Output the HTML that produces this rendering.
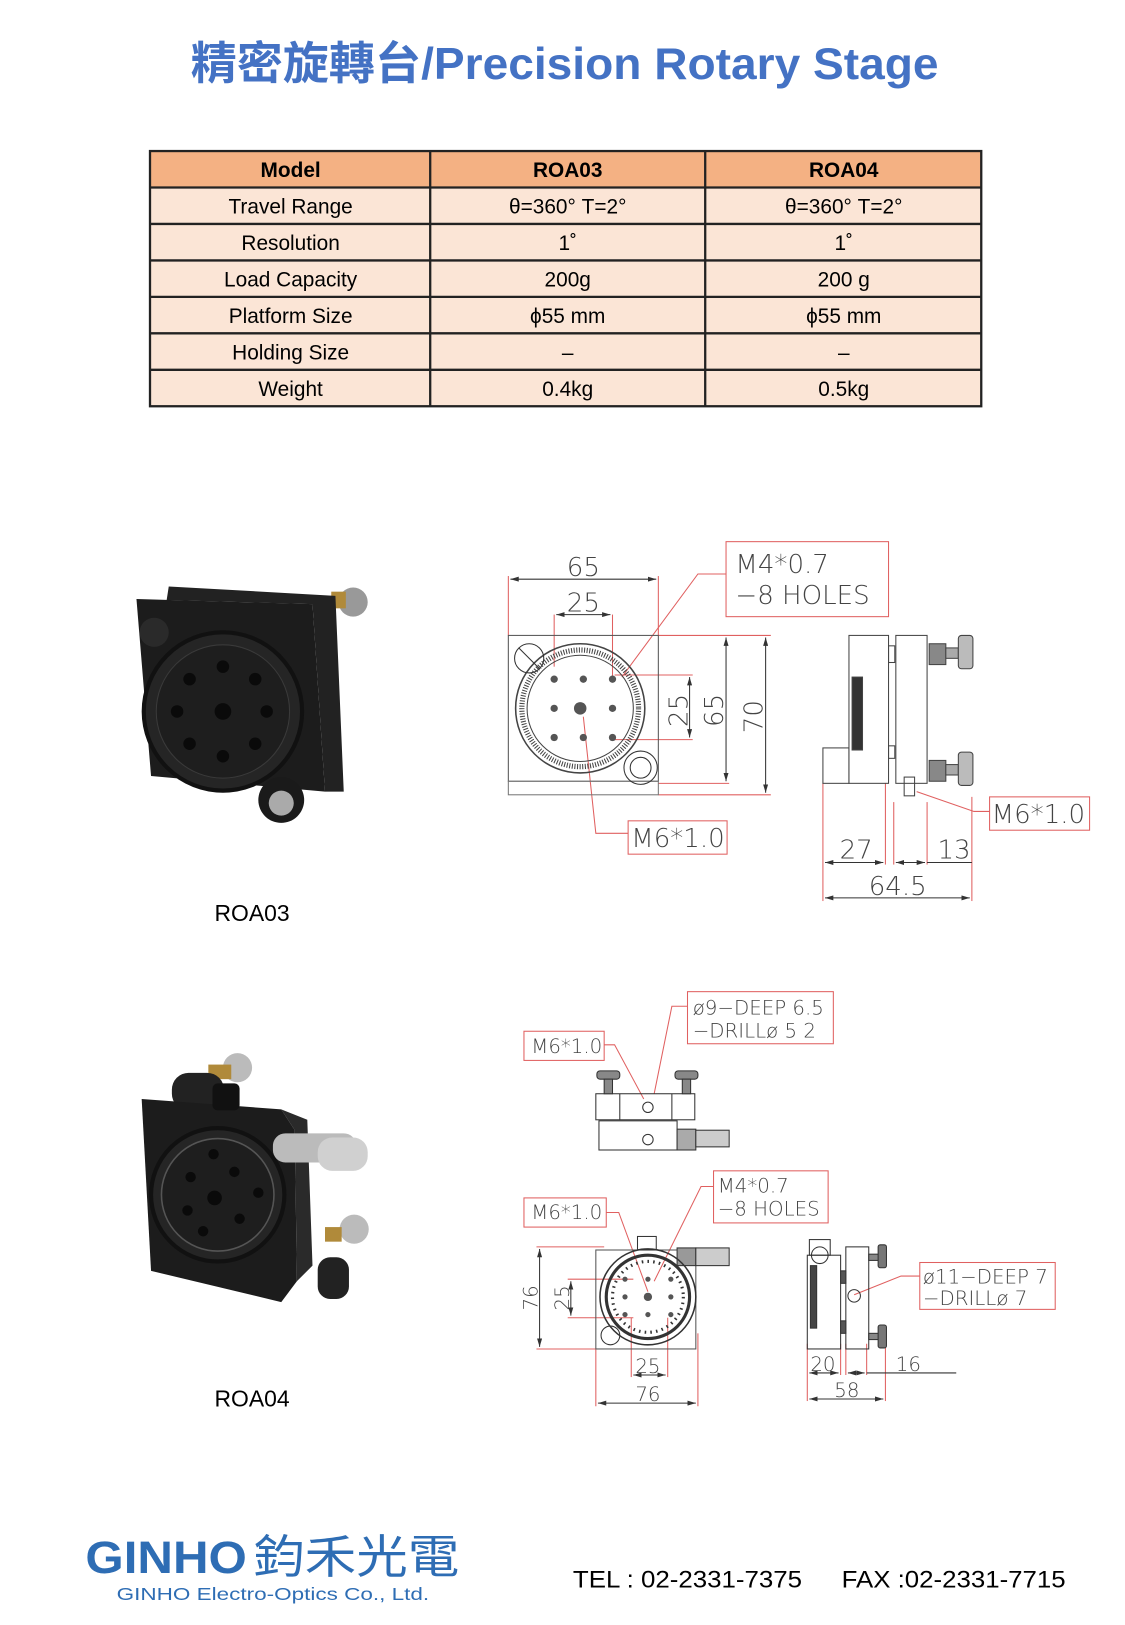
<!DOCTYPE html>
<html><head><meta charset="utf-8"><style>
html,body{margin:0;padding:0;background:#fff}
svg{display:block}
.t{font-family:"Liberation Sans","Noto Sans CJK TC",sans-serif}
.d{font-family:"DejaVu Sans","Liberation Sans",sans-serif;fill:#444;font-weight:200}
</style></head><body>
<svg width="1125" height="1625" viewBox="0 0 1080 1560" preserveAspectRatio="none" xmlns="http://www.w3.org/2000/svg">
<defs>
<marker id="a" viewBox="0 0 10 6" refX="10" refY="3" markerWidth="8" markerHeight="5" orient="auto-start-reverse"><path d="M0,0L10,3L0,6z" fill="#333"/></marker>
</defs>
<!-- Title -->
<text x="183" y="76" class="t" font-size="43" font-weight="bold" fill="#4472c4" textLength="718" lengthAdjust="spacingAndGlyphs">精密旋轉台/Precision Rotary Stage</text>

<!-- Table -->
<g class="t" font-size="20" text-anchor="middle" fill="#000">
<rect x="144" y="145" width="798" height="35" fill="#f4b183"/>
<rect x="144" y="180" width="798" height="210" fill="#fbe5d6"/>
<g stroke="#222" stroke-width="2.2" fill="none">
<rect x="144" y="145" width="798" height="245"/>
<line x1="413" y1="145" x2="413" y2="390"/><line x1="677" y1="145" x2="677" y2="390"/>
<line x1="144" y1="180" x2="942" y2="180"/><line x1="144" y1="215" x2="942" y2="215"/>
<line x1="144" y1="250" x2="942" y2="250"/><line x1="144" y1="285" x2="942" y2="285"/>
<line x1="144" y1="320" x2="942" y2="320"/><line x1="144" y1="355" x2="942" y2="355"/>
</g>
<g font-weight="bold"><text x="279" y="170">Model</text><text x="545" y="170">ROA03</text><text x="810" y="170">ROA04</text></g>
<text x="279" y="205">Travel Range</text><text x="545" y="205">θ=360° T=2°</text><text x="810" y="205">θ=360° T=2°</text>
<text x="279" y="240">Resolution</text><text x="545" y="240">1˚</text><text x="810" y="240">1˚</text>
<text x="279" y="275">Load Capacity</text><text x="545" y="275">200g</text><text x="810" y="275">200 g</text>
<text x="279" y="310">Platform Size</text><text x="545" y="310">ϕ55 mm</text><text x="810" y="310">ϕ55 mm</text>
<text x="279" y="345">Holding Size</text><text x="545" y="345">–</text><text x="810" y="345">–</text>
<text x="279" y="380">Weight</text><text x="545" y="380">0.4kg</text><text x="810" y="380">0.5kg</text>
</g>

<!-- Photo ROA03 -->
<g>
<circle cx="339" cy="578" r="14" fill="#999"/><rect x="318" y="568" width="14" height="16" fill="#b08a3a"/>
<polygon points="162,563 322,572 330,760 312,760 300,580 160,576" fill="#222"/>
<polygon points="131,575 300,580 312,760 145,745" fill="#1c1c1c"/>
<circle cx="214" cy="683" r="76" fill="#252525" stroke="#111" stroke-width="4"/>
<circle cx="214" cy="683" r="64" fill="#1e1e1e" stroke="#3a3a3a" stroke-width="1"/>
<g fill="#0a0a0a"><circle cx="214" cy="683" r="8"/><circle cx="182" cy="652" r="6"/><circle cx="245" cy="652" r="6"/><circle cx="182" cy="714" r="6"/><circle cx="245" cy="714" r="6"/><circle cx="214" cy="640" r="6"/><circle cx="214" cy="726" r="6"/><circle cx="256" cy="683" r="6"/><circle cx="170" cy="683" r="6"/></g>
<circle cx="270" cy="768" r="22" fill="#1a1a1a"/><circle cx="270" cy="771" r="12" fill="#aaa"/>
<circle cx="148" cy="607" r="14" fill="#2a2a2a"/>
</g>
<text x="242" y="884" text-anchor="middle" class="t" font-size="22">ROA03</text>

<!-- Photo ROA04 -->
<g>
<circle cx="228" cy="1025" r="14" fill="#bbb"/><rect x="200" y="1022" width="22" height="14" fill="#b08a3a"/>
<rect x="165" y="1030" width="50" height="36" rx="16" fill="#222"/>
<polygon points="136,1055 270,1065 283,1085 285,1230 270,1250 145,1220" fill="#1c1c1c"/>
<polygon points="270,1065 295,1075 300,1215 285,1230 283,1085" fill="#2a2a2a"/>
<circle cx="209" cy="1147" r="64" fill="#252525" stroke="#111" stroke-width="4"/>
<circle cx="209" cy="1147" r="54" fill="#1e1e1e" stroke="#555" stroke-width="1.5"/>
<g fill="#0a0a0a"><circle cx="206" cy="1150" r="7"/><circle cx="183" cy="1130" r="5"/><circle cx="225" cy="1125" r="5"/><circle cx="180" cy="1162" r="5"/><circle cx="230" cy="1170" r="5"/><circle cx="248" cy="1145" r="5"/><circle cx="205" cy="1108" r="5"/><circle cx="195" cy="1182" r="5"/></g>
<rect x="204" y="1040" width="26" height="26" rx="5" fill="#111"/>
<rect x="262" y="1088" width="80" height="28" rx="12" fill="#bbb"/>
<rect x="305" y="1092" width="48" height="32" rx="14" fill="#d0d0d0"/>
<rect x="305" y="1207" width="30" height="40" rx="12" fill="#222"/>
<circle cx="340" cy="1180" r="14" fill="#bbb"/><rect x="312" y="1178" width="16" height="14" fill="#b08a3a"/>
</g>
<text x="242" y="1350" text-anchor="middle" class="t" font-size="22">ROA04</text>

<!-- Drawing 1 -->
<g stroke="#e06060" stroke-width="1" fill="none">
<line x1="488" y1="553" x2="488" y2="610"/><line x1="632" y1="553" x2="632" y2="610"/>
<line x1="532" y1="590" x2="532" y2="640"/><line x1="588" y1="590" x2="588" y2="650"/>
<line x1="590" y1="648" x2="665" y2="648"/><line x1="590" y1="710" x2="665" y2="710"/>
<line x1="632" y1="610" x2="740" y2="610"/><line x1="632" y1="752" x2="700" y2="752"/><line x1="632" y1="763" x2="740" y2="763"/>
<rect x="697" y="520" width="156" height="72"/>
<polyline points="697,551 670,551 597,650"/>
<polyline points="560,688 572,800 603,800"/><rect x="603" y="788" width="95" height="32"/>
<line x1="790" y1="752" x2="790" y2="865"/><line x1="850" y1="752" x2="850" y2="830"/><line x1="858" y1="770" x2="858" y2="830"/><line x1="890" y1="770" x2="890" y2="830"/><line x1="933" y1="765" x2="933" y2="865"/>
<polyline points="880,760 935,779 950,779"/><rect x="950" y="765" width="96" height="32"/>
</g>
<g stroke="#333" stroke-width="1" fill="none">
<line x1="490" y1="556" x2="630" y2="556" marker-start="url(#a)" marker-end="url(#a)"/>
<line x1="534" y1="590" x2="586" y2="590" marker-start="url(#a)" marker-end="url(#a)"/>
<line x1="662" y1="650" x2="662" y2="708" marker-start="url(#a)" marker-end="url(#a)"/>
<line x1="697" y1="612" x2="697" y2="750" marker-start="url(#a)" marker-end="url(#a)"/>
<line x1="735" y1="612" x2="735" y2="761" marker-start="url(#a)" marker-end="url(#a)"/>
<line x1="792" y1="828" x2="848" y2="828" marker-start="url(#a)" marker-end="url(#a)"/>
<line x1="860" y1="828" x2="888" y2="828" marker-start="url(#a)" marker-end="url(#a)"/>
<line x1="890" y1="828" x2="933" y2="828"/>
<line x1="792" y1="862" x2="931" y2="862" marker-start="url(#a)" marker-end="url(#a)"/>
<rect x="488" y="610" width="144" height="140" stroke="#555"/>
<rect x="488" y="750" width="144" height="13" stroke="#777"/>
<circle cx="557" cy="680" r="62" stroke="#444" stroke-width="1.5"/>
<circle cx="557" cy="680" r="56" stroke="#444" stroke-width="5" stroke-dasharray="1 1.5"/>
<circle cx="557" cy="680" r="51" stroke="#444"/>
<circle cx="508" cy="632" r="14"/><circle cx="615" cy="737" r="16"/><circle cx="615" cy="737" r="10"/>
<line x1="498" y1="622" x2="518" y2="642"/>
</g>
<g fill="#555"><circle cx="557" cy="680" r="6"/><circle cx="532" cy="652" r="3.5"/><circle cx="560" cy="652" r="3.5"/><circle cx="588" cy="652" r="3.5"/><circle cx="532" cy="680" r="3.5"/><circle cx="588" cy="680" r="3.5"/><circle cx="532" cy="708" r="3.5"/><circle cx="560" cy="708" r="3.5"/><circle cx="588" cy="708" r="3.5"/></g>
<g stroke="#444" fill="none" stroke-width="1">
<rect x="815" y="610" width="38" height="142"/><rect x="790" y="718" width="25" height="34"/>
<rect x="853" y="620" width="6" height="16"/><rect x="853" y="716" width="6" height="12"/>
<rect x="860" y="610" width="30" height="142"/>
<rect x="892" y="618" width="16" height="20" fill="#888"/><rect x="908" y="622" width="12" height="10" fill="#aaa"/><rect x="920" y="610" width="14" height="32" rx="3" fill="#bbb"/>
<rect x="892" y="730" width="16" height="20" fill="#888"/><rect x="908" y="734" width="12" height="10" fill="#aaa"/><rect x="920" y="722" width="14" height="32" rx="3" fill="#bbb"/>
<rect x="868" y="746" width="10" height="18"/>
<rect x="818" y="650" width="10" height="70" fill="#333"/>
</g>
<g class="d" font-size="25"><text x="560" y="553" text-anchor="middle">65</text><text x="560" y="587" text-anchor="middle">25</text>
<text transform="translate(660,682) rotate(-90)" text-anchor="middle">25</text><text transform="translate(694,682) rotate(-90)" text-anchor="middle">65</text><text transform="translate(732,688) rotate(-90)" text-anchor="middle">70</text>
<text x="706" y="550">M4*0.7</text><text x="706" y="580">−8 HOLES</text>
<text x="606" y="813">M6*1.0</text><text x="952" y="790">M6*1.0</text>
<text x="806" y="824">27</text><text x="900" y="824">13</text><text x="834" y="859">64.5</text></g>

<!-- Drawing 2 -->
<g stroke="#e06060" stroke-width="1" fill="none">
<rect x="660" y="952" width="140" height="50"/><polyline points="660,966 645,966 628,1050"/>
<rect x="503" y="990" width="77" height="28"/><polyline points="580,1003 590,1003 618,1055"/>
<rect x="503" y="1150" width="79" height="28"/><polyline points="582,1164 594,1164 622,1240"/>
<rect x="685" y="1124" width="110" height="50"/><polyline points="685,1139 673,1139 628,1230"/>
<line x1="515" y1="1197" x2="580" y2="1197"/><line x1="515" y1="1295" x2="580" y2="1295"/>
<line x1="545" y1="1228" x2="608" y2="1228"/><line x1="545" y1="1265" x2="608" y2="1265"/>
<line x1="606" y1="1265" x2="606" y2="1322"/><line x1="641" y1="1265" x2="641" y2="1322"/>
<line x1="572" y1="1295" x2="572" y2="1350"/><line x1="670" y1="1280" x2="670" y2="1350"/>
<line x1="775" y1="1290" x2="775" y2="1345"/><line x1="807" y1="1290" x2="807" y2="1320"/><line x1="812" y1="1290" x2="812" y2="1320"/><line x1="850" y1="1290" x2="850" y2="1345"/><line x1="832" y1="1290" x2="832" y2="1320"/>
<rect x="883" y="1212" width="130" height="45"/><polyline points="883,1225 865,1225 820,1243"/>
</g>
<g stroke="#333" stroke-width="1" fill="none">
<line x1="518" y1="1199" x2="518" y2="1293" marker-start="url(#a)" marker-end="url(#a)"/>
<line x1="548" y1="1230" x2="548" y2="1263" marker-start="url(#a)" marker-end="url(#a)"/>
<line x1="608" y1="1320" x2="639" y2="1320" marker-start="url(#a)" marker-end="url(#a)"/>
<line x1="574" y1="1347" x2="668" y2="1347" marker-start="url(#a)" marker-end="url(#a)"/>
<line x1="777" y1="1318" x2="805" y2="1318" marker-start="url(#a)" marker-end="url(#a)"/>
<line x1="814" y1="1318" x2="830" y2="1318" marker-start="url(#a)" marker-end="url(#a)"/><line x1="832" y1="1318" x2="918" y2="1318"/>
<line x1="777" y1="1343" x2="848" y2="1343" marker-start="url(#a)" marker-end="url(#a)"/>
<rect x="572" y="1050" width="95" height="25"/><line x1="595" y1="1050" x2="595" y2="1075"/><line x1="645" y1="1050" x2="645" y2="1075"/>
<rect x="575" y="1076" width="75" height="28"/><circle cx="622" cy="1063" r="5"/><circle cx="622" cy="1094" r="5"/>
<rect x="650" y="1084" width="18" height="20" fill="#aaa"/><rect x="668" y="1085" width="32" height="16" fill="#ccc"/>
<rect x="573" y="1028" width="22" height="8" rx="3" fill="#888"/><rect x="580" y="1036" width="8" height="14" fill="#888"/>
<rect x="648" y="1028" width="22" height="8" rx="3" fill="#888"/><rect x="655" y="1036" width="8" height="14" fill="#888"/>
<rect x="572" y="1200" width="96" height="95" stroke="#555"/>
<rect x="612" y="1187" width="18" height="13"/>
<rect x="650" y="1198" width="18" height="17" fill="#999"/><rect x="668" y="1198" width="32" height="17" fill="#ccc"/>
<circle cx="622" cy="1245" r="46" stroke-width="1.5"/><circle cx="622" cy="1245" r="40" stroke-width="3"/>
<circle cx="622" cy="1245" r="34" stroke-dasharray="1.5 4" stroke-width="3"/>
<circle cx="586" cy="1282" r="9"/>
<rect x="775" y="1205" width="32" height="90"/><rect x="777" y="1190" width="20" height="15"/><circle cx="787" cy="1205" r="8"/>
<rect x="812" y="1197" width="22" height="98"/><rect x="807" y="1220" width="5" height="12" fill="#555"/><rect x="807" y="1268" width="5" height="12" fill="#555"/>
<circle cx="820" cy="1244" r="6"/>
<rect x="834" y="1204" width="10" height="6" fill="#888"/><rect x="843" y="1195" width="8" height="22" rx="2" fill="#777"/>
<rect x="834" y="1280" width="10" height="6" fill="#888"/><rect x="843" y="1272" width="8" height="22" rx="2" fill="#777"/>
<rect x="778" y="1215" width="6" height="60" fill="#444"/>
</g>
<g fill="#555"><circle cx="622" cy="1245" r="4"/><circle cx="600" cy="1228" r="2.5"/><circle cx="622" cy="1228" r="2.5"/><circle cx="644" cy="1228" r="2.5"/><circle cx="600" cy="1245" r="2.5"/><circle cx="644" cy="1245" r="2.5"/><circle cx="600" cy="1262" r="2.5"/><circle cx="622" cy="1262" r="2.5"/><circle cx="644" cy="1262" r="2.5"/></g>
<g class="d" font-size="19"><text x="665" y="974">ø9−DEEP 6.5</text><text x="665" y="996">−DRILLø 5 2</text>
<text x="510" y="1011">M6*1.0</text><text x="510" y="1170">M6*1.0</text>
<text x="689" y="1145">M4*0.7</text><text x="689" y="1167">−8 HOLES</text>
<text x="886" y="1232">ø11−DEEP 7</text><text x="886" y="1253">−DRILLø 7</text>
<text transform="translate(516,1246) rotate(-90)" text-anchor="middle">76</text><text transform="translate(546,1246) rotate(-90)" text-anchor="middle">25</text>
<text x="622" y="1318" text-anchor="middle">25</text><text x="622" y="1345" text-anchor="middle">76</text>
<text x="790" y="1316" text-anchor="middle">20</text><text x="872" y="1316" text-anchor="middle">16</text><text x="813" y="1341" text-anchor="middle">58</text></g>

<!-- Footer -->
<text x="82" y="1510" class="t" font-size="44" font-weight="bold" fill="#2e6db4" textLength="155" lengthAdjust="spacingAndGlyphs">GINHO</text>
<text x="243" y="1510" class="t" font-size="44" fill="#2e6db4" textLength="198" lengthAdjust="spacingAndGlyphs">鈞禾光電</text>
<text x="112" y="1536" class="t" font-size="17" fill="#2e6db4" textLength="300" lengthAdjust="spacingAndGlyphs">GINHO Electro-Optics Co., Ltd.</text>
<text x="550" y="1524" class="t" font-size="23" fill="#000" textLength="220" lengthAdjust="spacingAndGlyphs">TEL : 02-2331-7375</text>
<text x="808" y="1524" class="t" font-size="23" fill="#000" textLength="215" lengthAdjust="spacingAndGlyphs">FAX :02-2331-7715</text>
</svg>
</body></html>
